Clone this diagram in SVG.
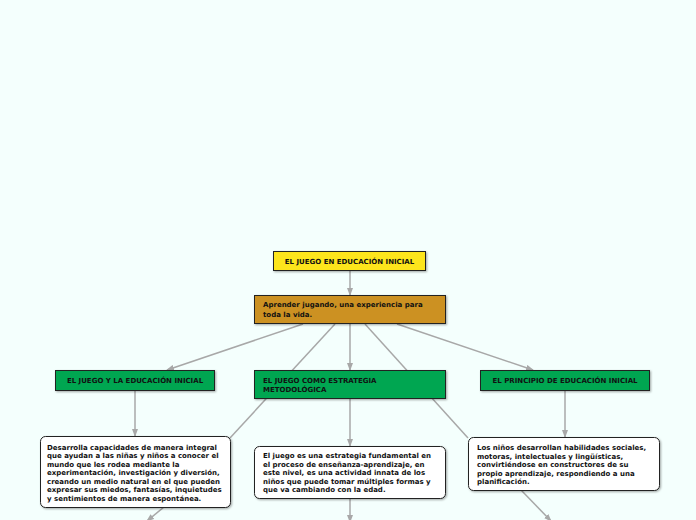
<svg xmlns="http://www.w3.org/2000/svg" width="696" height="520" viewBox="0 0 696 520">
<style>
.t{font-family:"DejaVu Sans",Verdana,sans-serif;font-weight:bold;font-size:7px;fill:#111}
.c{stroke:#a8a8a8;stroke-width:1.5;fill:none}
.box{stroke:#222;stroke-width:1}
</style>
<defs>
<marker id="a" markerWidth="8" markerHeight="6" refX="7" refY="3" orient="auto" markerUnits="userSpaceOnUse"><path d="M0,0 L8,3 L0,6 Z" fill="#a8a8a8"/></marker>
<filter id="s" x="-10%" y="-10%" width="130%" height="140%"><feDropShadow dx="1" dy="1" stdDeviation="0.8" flood-color="#000" flood-opacity="0.35"/></filter>
</defs>
<rect width="696" height="520" fill="#f4fffd"/>
<g id="connectors">
<line class="c" x1="350" y1="270" x2="350" y2="295" marker-end="url(#a)"/>
<line class="c" x1="303" y1="324" x2="167" y2="370" marker-end="url(#a)"/>
<line class="c" x1="335" y1="324" x2="230" y2="438"/>
<line class="c" x1="350" y1="324" x2="350" y2="370" marker-end="url(#a)"/>
<line class="c" x1="365" y1="324" x2="468" y2="438"/>
<line class="c" x1="397" y1="324" x2="533" y2="370" marker-end="url(#a)"/>
<line class="c" x1="135" y1="391" x2="135" y2="436" marker-end="url(#a)"/>
<line class="c" x1="350" y1="399" x2="350" y2="446" marker-end="url(#a)"/>
<line class="c" x1="565" y1="391" x2="565" y2="437" marker-end="url(#a)"/>
<line class="c" x1="164" y1="507" x2="147" y2="521" marker-end="url(#a)"/>
<line class="c" x1="350" y1="498" x2="350" y2="522" marker-end="url(#a)"/>
<line class="c" x1="521" y1="490" x2="551" y2="521" marker-end="url(#a)"/>
</g>
<g id="root">
<rect class="box" x="273.5" y="251.5" width="152" height="19" fill="#fde51c" filter="url(#s)"/>
<text class="t" x="349.5" y="263.5" text-anchor="middle">EL JUEGO EN EDUCACIÓN INICIAL</text>
</g>
<g id="sub">
<rect class="box" x="254.5" y="295.5" width="191" height="28" fill="#cc9121" filter="url(#s)"/>
<text class="t" x="263" y="307">Aprender jugando, una experiencia para</text>
<text class="t" x="263" y="317">toda la vida.</text>
</g>
<g id="green-left">
<rect class="box" x="55.5" y="370.5" width="159" height="20" fill="#00a651" stroke="#17402a" filter="url(#s)"/>
<text class="t" x="135" y="383" text-anchor="middle">EL JUEGO Y LA EDUCACIÓN INICIAL</text>
</g>
<g id="green-center">
<rect class="box" x="254.5" y="370.5" width="191" height="28" fill="#00a651" stroke="#17402a" filter="url(#s)"/>
<text class="t" x="263" y="382.5">EL JUEGO COMO ESTRATEGIA</text>
<text class="t" x="263" y="391.5">METODOLÓGICA</text>
</g>
<g id="green-right">
<rect class="box" x="480.5" y="370.5" width="169" height="20" fill="#00a651" stroke="#17402a" filter="url(#s)"/>
<text class="t" x="565" y="383" text-anchor="middle">EL PRINCIPIO DE EDUCACIÓN INICIAL</text>
</g>
<g id="text-left">
<rect class="box" x="40.5" y="436.5" width="190" height="71" rx="5" fill="#fff" filter="url(#s)"/>
<text class="t" x="47" y="449.5">Desarrolla capacidades de manera integral</text>
<text class="t" x="47" y="458">que ayudan a las niñas y niños a conocer el</text>
<text class="t" x="47" y="466.5">mundo que les rodea mediante la</text>
<text class="t" x="47" y="475">experimentación, investigación y diversión,</text>
<text class="t" x="47" y="483.5">creando un medio natural en el que pueden</text>
<text class="t" x="47" y="492">expresar sus miedos, fantasías, inquietudes</text>
<text class="t" x="47" y="500.5">y sentimientos de manera espontánea.</text>
</g>
<g id="text-center">
<rect class="box" x="254.5" y="446.5" width="191" height="52" rx="5" fill="#fff" filter="url(#s)"/>
<text class="t" x="263" y="458">El juego es una estrategia fundamental en</text>
<text class="t" x="263" y="466.5">el proceso de enseñanza-aprendizaje, en</text>
<text class="t" x="263" y="475">este nivel, es una actividad innata de los</text>
<text class="t" x="263" y="483.5">niños que puede tomar múltiples formas y</text>
<text class="t" x="263" y="492">que va cambiando con la edad.</text>
</g>
<g id="text-right">
<rect class="box" x="468.5" y="437.5" width="191" height="53" rx="5" fill="#fff" filter="url(#s)"/>
<text class="t" x="477" y="450">Los niños desarrollan habilidades sociales,</text>
<text class="t" x="477" y="458.5">motoras, intelectuales y lingüísticas,</text>
<text class="t" x="477" y="467">convirtiéndose en constructores de su</text>
<text class="t" x="477" y="475.5">propio aprendizaje, respondiendo a una</text>
<text class="t" x="477" y="484">planificación.</text>
</g>
</svg>
